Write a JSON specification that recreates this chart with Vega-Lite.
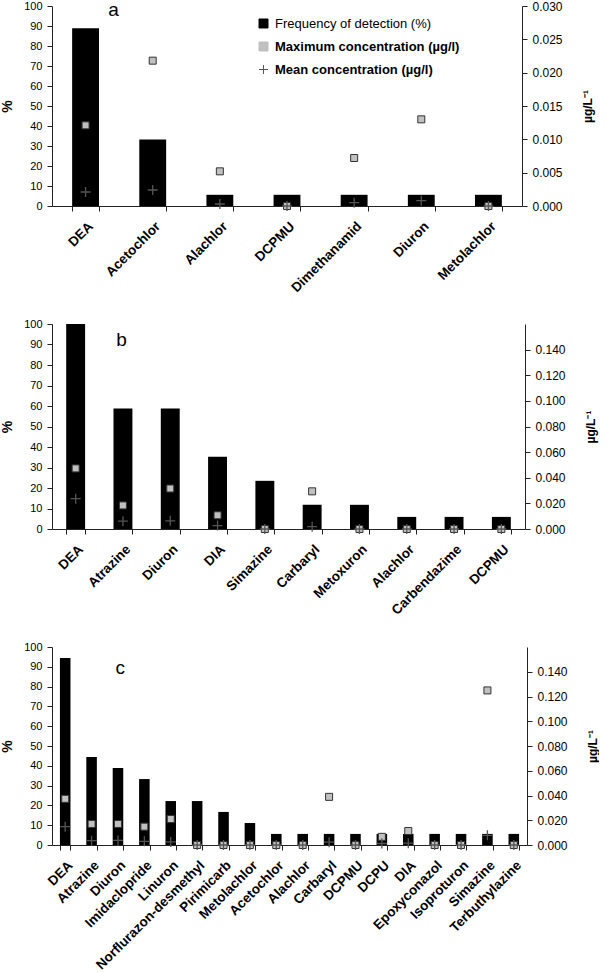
{
  "$schema": "https://vega.github.io/schema/vega-lite/v6.json",
  "padding": {"left": 0, "top": 0, "right": 0, "bottom": 0},
  "background": "white",
  "bounds": "flush",
  "spacing": 118,
  "config": {
    "font": "Liberation Sans",
    "view": {"stroke": null},
    "axis": {"grid": false, "domainColor": "#222", "tickColor": "#222", "labelColor": "#000", "titleColor": "#000", "labelFontSize": 11, "tickSize": 5, "labelOverlap": false, "labelPadding": 5}
  },
  "datasets": {
    "a": [
      {"compound": "DEA", "freq": 88.9, "max": 0.0121, "mean": 0.0021},
      {"compound": "Acetochlor", "freq": 33.3, "max": 0.0218, "mean": 0.0024},
      {"compound": "Alachlor", "freq": 5.6, "max": 0.0052, "mean": 0.0003},
      {"compound": "DCPMU", "freq": 5.6, "max": 0, "mean": 0},
      {"compound": "Dimethanamid", "freq": 5.6, "max": 0.0072, "mean": 0.0005},
      {"compound": "Diuron", "freq": 5.6, "max": 0.0130, "mean": 0.0008},
      {"compound": "Metolachlor", "freq": 5.6, "max": 0, "mean": 0}
    ],
    "b": [
      {"compound": "DEA", "freq": 100, "max": 0.0473, "mean": 0.0237},
      {"compound": "Atrazine", "freq": 58.8, "max": 0.0184, "mean": 0.0061},
      {"compound": "Diuron", "freq": 58.8, "max": 0.0316, "mean": 0.0064},
      {"compound": "DIA", "freq": 35.3, "max": 0.0107, "mean": 0.0027},
      {"compound": "Simazine", "freq": 23.5, "max": 0, "mean": 0},
      {"compound": "Carbaryl", "freq": 11.8, "max": 0.0294, "mean": 0.0018},
      {"compound": "Metoxuron", "freq": 11.8, "max": 0, "mean": 0},
      {"compound": "Alachlor", "freq": 5.9, "max": 0, "mean": 0},
      {"compound": "Carbendazime", "freq": 5.9, "max": 0, "mean": 0},
      {"compound": "DCPMU", "freq": 5.9, "max": 0, "mean": 0}
    ],
    "c": [
      {"compound": "DEA", "freq": 94.4, "max": 0.0373, "mean": 0.0148},
      {"compound": "Atrazine", "freq": 44.4, "max": 0.0170, "mean": 0.0035},
      {"compound": "Diuron", "freq": 38.9, "max": 0.0170, "mean": 0.0037},
      {"compound": "Imidaclopride", "freq": 33.3, "max": 0.0148, "mean": 0.0030},
      {"compound": "Linuron", "freq": 22.2, "max": 0.0210, "mean": 0.0025},
      {"compound": "Norflurazon-desmethyl", "freq": 22.2, "max": 0, "mean": 0},
      {"compound": "Pirimicarb", "freq": 16.7, "max": 0, "mean": 0},
      {"compound": "Metolachlor", "freq": 11.1, "max": 0, "mean": 0},
      {"compound": "Acetochlor", "freq": 5.6, "max": 0, "mean": 0},
      {"compound": "Alachlor", "freq": 5.6, "max": 0, "mean": 0},
      {"compound": "Carbaryl", "freq": 5.6, "max": 0.0389, "mean": 0.0023},
      {"compound": "DCPMU", "freq": 5.6, "max": 0, "mean": 0},
      {"compound": "DCPU", "freq": 5.6, "max": 0.0066, "mean": 0.0012},
      {"compound": "DIA", "freq": 5.6, "max": 0.0113, "mean": 0.0015},
      {"compound": "Epoxyconazol", "freq": 5.6, "max": 0, "mean": 0},
      {"compound": "Isoproturon", "freq": 5.6, "max": 0, "mean": 0},
      {"compound": "Simazine", "freq": 5.6, "max": 0.1249, "mean": 0.0078},
      {"compound": "Terbuthylazine", "freq": 5.6, "max": 0, "mean": 0}
    ]
  },
  "vconcat": [
    {
      "width": 470, "height": 200,
      "data": {"name": "a"},
      "layer": [
        {"layer": [
          {
            "mark": {"type": "bar"},
            "encoding": {
              "x": {"field": "compound", "type": "nominal", "sort": null, "scale": {"paddingInner": 0.6, "paddingOuter": 0.3},
                    "axis": {"title": null, "labelAngle": -45, "labelFontWeight": "bold", "labelFontSize": 13.5, "tickBand": "extent", "labelPadding": 8, "labelOverlap": false}},
              "y": {"field": "freq", "type": "quantitative", "scale": {"domain": [0, 100]},
                    "axis": {"title": "%", "values": [0,10,20,30,40,50,60,70,80,90,100], "labelOverlap": false, "titleFontSize": 14, "titleFontWeight": "bold", "titlePadding": 9}},
              "color": {"datum": "Frequency of detection (%)",
                        "scale": {"domain": ["Frequency of detection (%)", "Maximum concentration (µg/l)", "Mean concentration (µg/l)"], "range": ["#000000", "#c0c0c0", "#555555"]},
                        "legend": {"orient": "none", "legendX": 205, "legendY": 11, "title": null, "labelFontSize": 13, "labelColor": "#000", "labelLimit": 400, "rowPadding": 9, "symbolSize": 81, "labelOffset": 5, "padding": 0,
                          "encode": {
                            "symbols": {"update": {
                              "shape": {"signal": "datum.value === 'Mean concentration (µg/l)' ? 'M-1,0H1M0,-1V1' : 'square'"},
                              "fill": {"signal": "datum.value === 'Frequency of detection (%)' ? '#000000' : datum.value === 'Maximum concentration (µg/l)' ? '#c0c0c0' : 'transparent'"},
                              "stroke": {"signal": "datum.value === 'Mean concentration (µg/l)' ? '#555555' : '#333333'"},
                              "strokeWidth": {"value": 1},
                              "opacity": {"value": 1}
                            }},
                            "labels": {"update": {
                              "fontWeight": {"signal": "datum.value === 'Frequency of detection (%)' ? 'normal' : 'bold'"}
                            }}
                          }}}
            }
          },
          {
            "data": {"values": [{"compound": "DEA", "panel": "a"}]},
            "mark": {"type": "text", "fontSize": 19, "dx": 28, "color": "#000", "baseline": "middle"},
            "encoding": {
              "x": {"field": "compound", "type": "nominal", "sort": null},
              "y": {"datum": 98, "axis": {"title": "%", "values": [0,10,20,30,40,50,60,70,80,90,100], "labelOverlap": false, "titleFontSize": 14, "titleFontWeight": "bold", "titlePadding": 9}},
              "text": {"field": "panel"}
            }
          }
        ]},
        {"layer": [
          {
            "mark": {"type": "point", "shape": "square", "filled": true, "size": 49, "stroke": "#333333", "strokeWidth": 1, "opacity": 1},
            "encoding": {
              "x": {"field": "compound", "type": "nominal", "sort": null},
              "y": {"field": "max", "type": "quantitative", "scale": {"domain": [0, 0.03]},
                    "axis": {"orient": "right", "title": "µg/L⁻¹", "format": ".3f", "values": [0,0.005,0.01,0.015,0.02,0.025,0.03], "labelOverlap": false, "labelFontSize": 12, "titleAngle": 270, "titleFontSize": 12, "titleFontWeight": "bold", "titlePadding": 32}},
              "color": {"datum": "Maximum concentration (µg/l)"}
            }
          },
          {
            "mark": {"type": "point", "shape": "M-1,0H1M0,-1V1", "filled": false, "size": 100, "strokeWidth": 1.3, "opacity": 1},
            "encoding": {
              "x": {"field": "compound", "type": "nominal", "sort": null},
              "y": {"field": "mean", "type": "quantitative", "axis": {"orient": "right", "title": "µg/L⁻¹", "format": ".3f", "values": [0,0.005,0.01,0.015,0.02,0.025,0.03], "labelOverlap": false, "labelFontSize": 12, "titleAngle": 270, "titleFontSize": 12, "titleFontWeight": "bold", "titlePadding": 32}},
              "color": {"datum": "Mean concentration (µg/l)"}
            }
          }
        ]}
      ],
      "resolve": {"scale": {"y": "independent"}}
    },
    {
      "width": 473, "height": 205,
      "data": {"name": "b"},
      "layer": [
        {"layer": [
          {
            "mark": {"type": "bar", "color": "#000000"},
            "encoding": {
              "x": {"field": "compound", "type": "nominal", "sort": null, "scale": {"paddingInner": 0.6, "paddingOuter": 0.3},
                    "axis": {"title": null, "labelAngle": -45, "labelFontWeight": "bold", "labelFontSize": 13.5, "tickBand": "extent", "labelPadding": 8, "labelOverlap": false}},
              "y": {"field": "freq", "type": "quantitative", "scale": {"domain": [0, 100]},
                    "axis": {"title": "%", "values": [0,10,20,30,40,50,60,70,80,90,100], "labelOverlap": false, "titleFontSize": 14, "titleFontWeight": "bold", "titlePadding": 9}}
            }
          },
          {
            "data": {"values": [{"compound": "DEA", "panel": "b"}]},
            "mark": {"type": "text", "fontSize": 19, "dx": 46, "color": "#000", "baseline": "middle"},
            "encoding": {
              "x": {"field": "compound", "type": "nominal", "sort": null},
              "y": {"datum": 92, "axis": {"title": "%", "values": [0,10,20,30,40,50,60,70,80,90,100], "labelOverlap": false, "titleFontSize": 14, "titleFontWeight": "bold", "titlePadding": 9}},
              "text": {"field": "panel"}
            }
          }
        ]},
        {"layer": [
          {
            "mark": {"type": "point", "shape": "square", "filled": true, "size": 49, "color": "#c0c0c0", "stroke": "#333333", "strokeWidth": 1, "opacity": 1},
            "encoding": {
              "x": {"field": "compound", "type": "nominal", "sort": null},
              "y": {"field": "max", "type": "quantitative", "scale": {"domain": [0, 0.14]},
                    "axis": {"orient": "right", "title": "µg/L⁻¹", "format": ".3f", "values": [0,0.02,0.04,0.06,0.08,0.1,0.12,0.14], "labelOverlap": false, "labelFontSize": 12, "titleAngle": 270, "titleFontSize": 12, "titleFontWeight": "bold", "titlePadding": 32}}
            }
          },
          {
            "mark": {"type": "point", "shape": "M-1,0H1M0,-1V1", "filled": false, "size": 100, "color": "#555555", "strokeWidth": 1.3, "opacity": 1},
            "encoding": {
              "x": {"field": "compound", "type": "nominal", "sort": null},
              "y": {"field": "mean", "type": "quantitative", "axis": {"orient": "right", "title": "µg/L⁻¹", "format": ".3f", "values": [0,0.02,0.04,0.06,0.08,0.1,0.12,0.14], "labelOverlap": false, "labelFontSize": 12, "titleAngle": 270, "titleFontSize": 12, "titleFontWeight": "bold", "titlePadding": 32}}
            }
          }
        ]}
      ],
      "resolve": {"scale": {"y": "independent"}}
    },
    {
      "width": 475, "height": 198,
      "data": {"name": "c"},
      "layer": [
        {"layer": [
          {
            "mark": {"type": "bar", "color": "#000000"},
            "encoding": {
              "x": {"field": "compound", "type": "nominal", "sort": null, "scale": {"paddingInner": 0.6, "paddingOuter": 0.3},
                    "axis": {"title": null, "labelAngle": -45, "labelFontWeight": "bold", "labelFontSize": 13.5, "tickBand": "extent", "labelPadding": 8, "labelOverlap": false}},
              "y": {"field": "freq", "type": "quantitative", "scale": {"domain": [0, 100]},
                    "axis": {"title": "%", "values": [0,10,20,30,40,50,60,70,80,90,100], "labelOverlap": false, "titleFontSize": 14, "titleFontWeight": "bold", "titlePadding": 9}}
            }
          },
          {
            "data": {"values": [{"compound": "DEA", "panel": "c"}]},
            "mark": {"type": "text", "fontSize": 19, "dx": 55, "color": "#000", "baseline": "middle"},
            "encoding": {
              "x": {"field": "compound", "type": "nominal", "sort": null},
              "y": {"datum": 89.5, "axis": {"title": "%", "values": [0,10,20,30,40,50,60,70,80,90,100], "labelOverlap": false, "titleFontSize": 14, "titleFontWeight": "bold", "titlePadding": 9}},
              "text": {"field": "panel"}
            }
          }
        ]},
        {"layer": [
          {
            "mark": {"type": "point", "shape": "square", "filled": true, "size": 49, "color": "#c0c0c0", "stroke": "#333333", "strokeWidth": 1, "opacity": 1},
            "encoding": {
              "x": {"field": "compound", "type": "nominal", "sort": null},
              "y": {"field": "max", "type": "quantitative", "scale": {"domain": [0, 0.14]},
                    "axis": {"orient": "right", "title": "µg/L⁻¹", "format": ".3f", "values": [0,0.02,0.04,0.06,0.08,0.1,0.12,0.14], "labelOverlap": false, "labelFontSize": 12, "titleAngle": 270, "titleFontSize": 12, "titleFontWeight": "bold", "titlePadding": 32}}
            }
          },
          {
            "mark": {"type": "point", "shape": "M-1,0H1M0,-1V1", "filled": false, "size": 100, "color": "#555555", "strokeWidth": 1.3, "opacity": 1},
            "encoding": {
              "x": {"field": "compound", "type": "nominal", "sort": null},
              "y": {"field": "mean", "type": "quantitative", "axis": {"orient": "right", "title": "µg/L⁻¹", "format": ".3f", "values": [0,0.02,0.04,0.06,0.08,0.1,0.12,0.14], "labelOverlap": false, "labelFontSize": 12, "titleAngle": 270, "titleFontSize": 12, "titleFontWeight": "bold", "titlePadding": 32}}
            }
          }
        ]}
      ],
      "resolve": {"scale": {"y": "independent"}}
    }
  ]
}
